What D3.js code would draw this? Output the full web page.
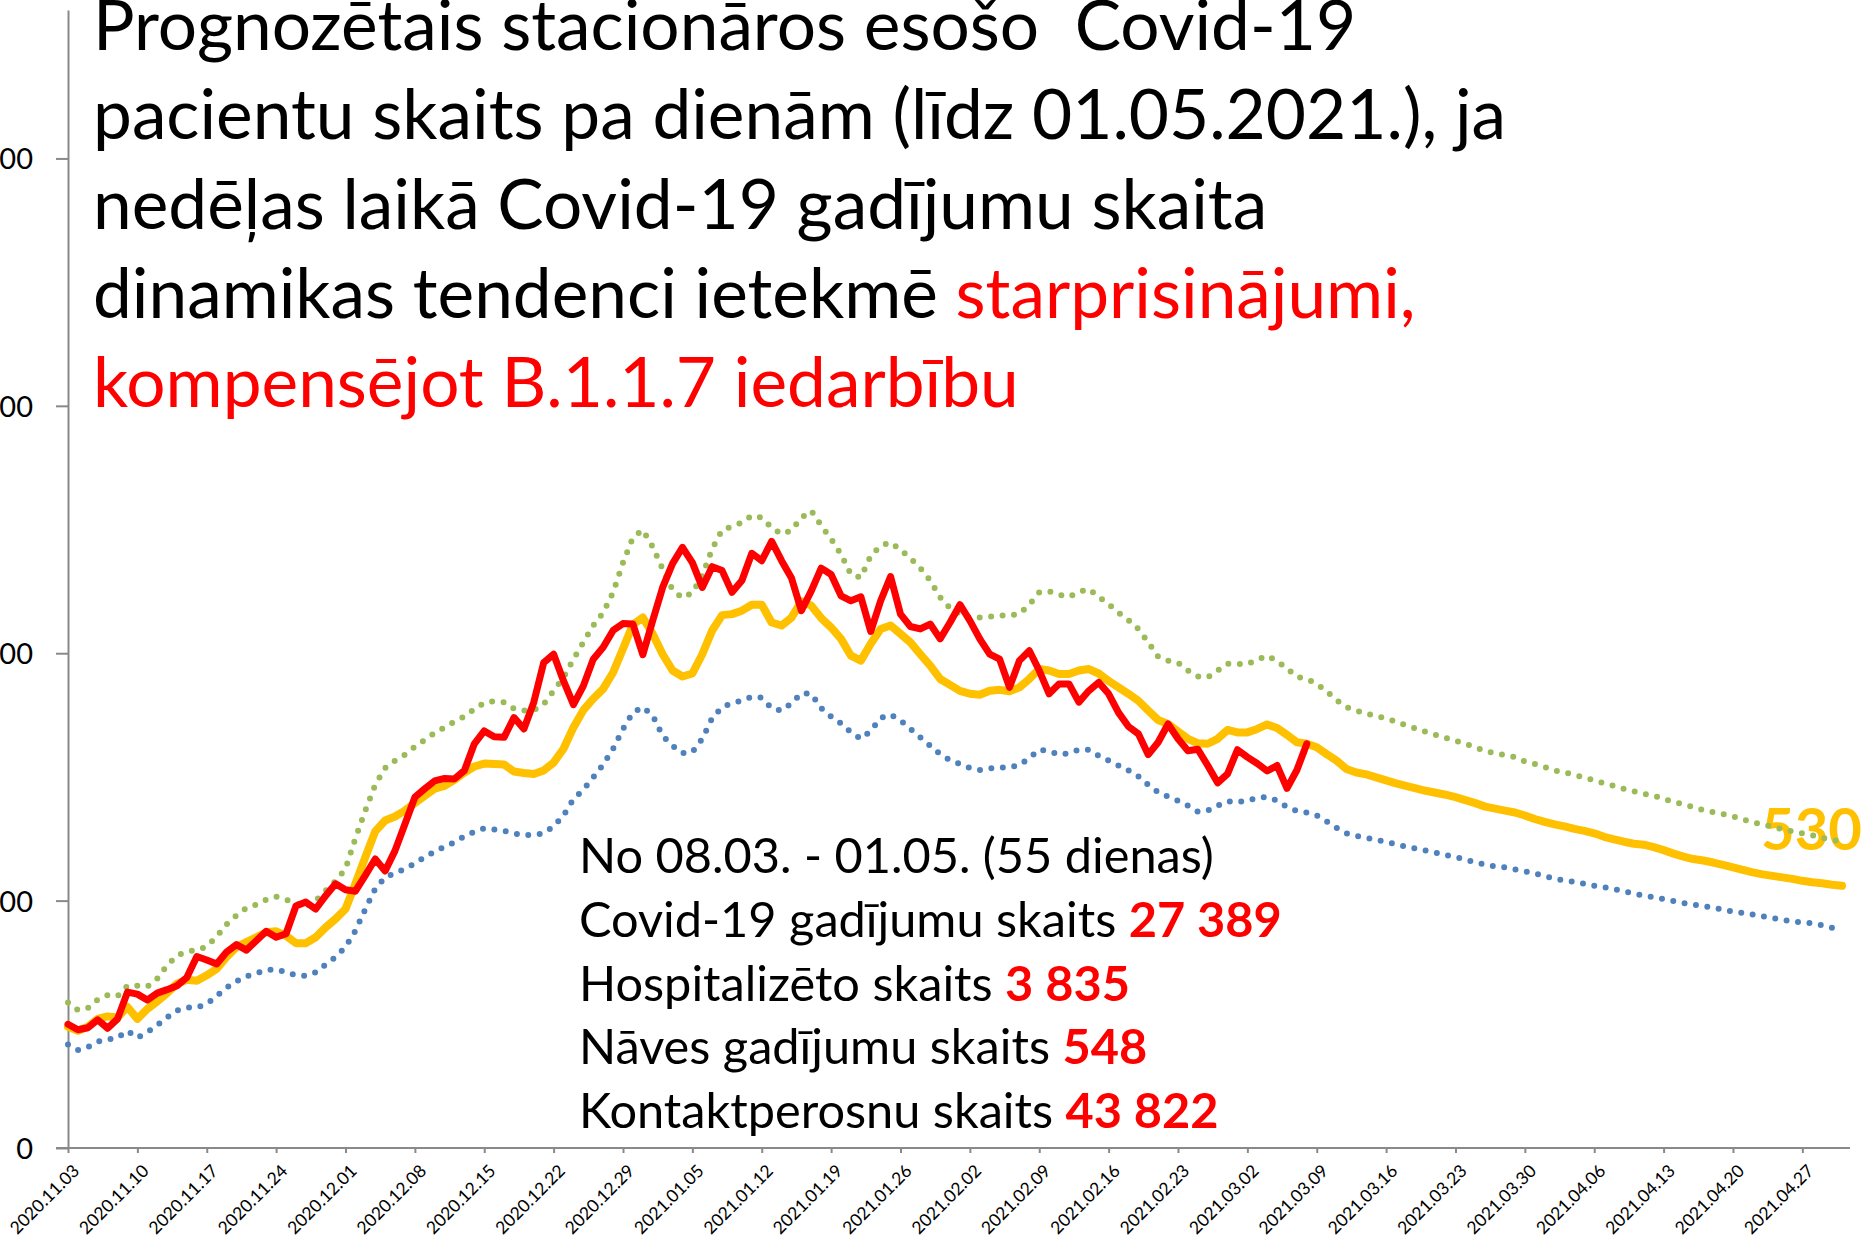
<!DOCTYPE html>
<html><head><meta charset="utf-8">
<script src="https://cdn.jsdelivr.net/npm/d3@7"></script>
<style>html,body{margin:0;padding:0;background:#fff;} svg{display:block;font-family:Lato,'Open Sans',sans-serif;}</style>
</head><body>
<svg id="chart" width="1864" height="1239"></svg>
<script>
// ---- data ----
const startDate = new Date(2020, 10, 3);
const endDate = new Date(2021, 4, 1);
const categories = d3.timeDay.range(startDate, d3.timeDay.offset(endDate, 1)).map(d3.timeFormat("%Y.%m.%d"));

const tickLabels = ["2020.11.03","2020.11.10","2020.11.17","2020.11.24","2020.12.01","2020.12.08","2020.12.15","2020.12.22","2020.12.29","2021.01.05","2021.01.12","2021.01.19","2021.01.26","2021.02.02","2021.02.09","2021.02.16","2021.02.23","2021.03.02","2021.03.09","2021.03.16","2021.03.23","2021.03.30","2021.04.06","2021.04.13","2021.04.20","2021.04.27"];
const yTicks = [0, 500, 1000, 1500, 2000];

// actual hospitalised patients (red)
const actual = [250,239,243,259,242,261,315,311,299,313,320,328,345,387,380,372,396,411,400,419,438,426,433,489,497,483,510,534,522,519,551,584,560,601,655,709,726,742,747,746,763,817,843,831,830,870,847,901,981,998,944,896,934,988,1012,1046,1060,1059,997,1066,1133,1181,1214,1183,1133,1175,1167,1123,1147,1202,1187,1226,1187,1152,1086,1126,1172,1159,1116,1106,1114,1044,1106,1155,1079,1054,1049,1059,1029,1062,1098,1066,1029,998,988,931,985,1005,965,918,938,938,901,924,941,918,880,852,837,795,820,857,827,803,806,773,738,756,805,790,777,762,773,727,764,817];

// model / forecast (yellow)
const model = [245,237,245,261,266,264,285,261,281,296,313,332,340,338,349,362,386,406,416,426,436,438,429,414,414,426,446,463,483,534,588,640,662,670,682,697,712,726,732,744,759,771,777,776,775,761,758,756,763,779,807,850,885,908,928,961,1009,1058,1072,1039,998,965,953,959,998,1046,1077,1079,1086,1098,1098,1062,1056,1072,1105,1096,1071,1052,1029,995,985,1019,1049,1056,1039,1022,998,975,948,936,924,918,916,924,926,923,931,948,968,965,958,958,965,968,959,944,931,918,904,884,865,857,842,827,818,817,827,845,840,840,847,856,849,835,820,817,810,796,783,766,759,755,749,743,737,732,727,722,718,714,709,703,697,690,686,682,678,672,665,659,654,650,645,641,636,629,624,619,615,613,608,602,595,589,584,581,577,572,567,562,557,553,550,547,544,540,537,535,532,530];

// upper bound (green dotted)
const upper = [294,279,283,300,309,307,328,328,326,342,369,389,397,400,407,427,452,470,485,492,502,508,502,495,487,500,520,540,564,626,682,734,768,783,795,811,825,839,850,862,872,887,900,903,901,888,884,885,897,924,951,988,1022,1056,1082,1123,1183,1234,1249,1215,1170,1128,1112,1122,1157,1211,1249,1256,1264,1278,1274,1254,1241,1248,1274,1288,1258,1231,1200,1159,1153,1197,1217,1224,1209,1192,1172,1147,1113,1091,1079,1072,1072,1074,1076,1076,1080,1098,1123,1125,1118,1114,1124,1130,1114,1099,1082,1067,1049,1022,993,985,981,965,953,951,965,979,978,978,987,995,984,969,952,948,938,923,905,891,884,878,873,868,862,854,848,841,835,829,823,817,810,802,798,794,790,781,776,770,763,759,754,749,743,737,732,726,721,716,712,705,700,694,689,683,679,675,670,664,658,654,649,644,640,636,632,627,623,619];

// lower bound (blue dotted)
const lower = [209,198,204,215,219,223,237,223,234,248,264,278,284,284,291,307,324,337,347,353,360,361,355,349,348,355,371,386,406,439,483,524,547,556,564,575,588,599,609,618,630,639,646,644,641,636,632,633,636,650,672,705,724,749,775,807,847,880,891,874,833,813,798,800,827,869,891,899,904,912,910,889,884,899,919,918,889,872,858,840,827,843,869,876,864,847,830,813,796,784,776,768,764,767,769,769,774,788,805,802,795,798,805,805,793,783,773,763,751,734,719,710,702,692,680,682,692,701,699,702,708,709,702,689,681,678,672,660,647,636,631,627,623,618,614,609,605,601,597,592,588,583,577,573,569,567,563,559,555,550,544,541,538,534,530,527,523,519,514,510,507,503,499,495,492,489,486,482,478,475,472,468,465,461,458,456,454,450,445,441];

const endLabel = "530";

const titleLines = [
  [{t:"Prognozētais stacionāros esošo  Covid-19", c:"#000000"}],
  [{t:"pacientu skaits pa dienām (līdz 01.05.2021.), ja", c:"#000000"}],
  [{t:"nedēļas laikā Covid-19 gadījumu skaita", c:"#000000"}],
  [{t:"dinamikas tendenci ietekmē ", c:"#000000"}, {t:"starprisinājumi,", c:"#FF0000"}],
  [{t:"kompensējot B.1.1.7 iedarbību", c:"#FF0000"}]
];
const noteLines = [
  [{t:"No 08.03. - 01.05. (55 dienas)", b:false}],
  [{t:"Covid-19 gadījumu skaits ", b:false}, {t:"27 389", b:true}],
  [{t:"Hospitalizēto skaits ", b:false}, {t:"3 835", b:true}],
  [{t:"Nāves gadījumu skaits ", b:false}, {t:"548", b:true}],
  [{t:"Kontaktperosnu skaits ", b:false}, {t:"43 822", b:true}]
];

// ---- layout ----
const svg = d3.select("#chart");
const x = d3.scalePoint().domain(categories).range([68, 1842]);
const y = d3.scaleLinear().domain([0, 2300]).range([1148, 10]);
const axisColor = "#898989";

// y axis
const yAxis = svg.append("g").attr("transform", "translate(68,0)")
  .call(d3.axisLeft(y).tickValues(yTicks).tickSize(12).tickSizeOuter(0).tickPadding(23).tickFormat(d3.format("d")));
yAxis.select(".domain").attr("stroke", axisColor).attr("stroke-width", 2);
yAxis.selectAll(".tick line").attr("stroke", axisColor).attr("stroke-width", 2);
yAxis.selectAll(".tick text").attr("font-family", "Lato").attr("font-size", 29).attr("fill", "#000").attr("dy", "0.36em");

// x axis
const tickCats = categories.filter((d, i) => i % 7 === 0);
const xAxis = svg.append("g").attr("transform", "translate(0,1148)")
  .call(d3.axisBottom(x).tickValues(tickCats).tickSize(5).tickSizeOuter(0).tickFormat((d, i) => tickLabels[i]));
xAxis.select(".domain").remove();
xAxis.append("line").attr("x1", 56).attr("x2", 1850).attr("y1", 0).attr("y2", 0)
  .attr("stroke", axisColor).attr("stroke-width", 2);
xAxis.selectAll(".tick line").attr("stroke", axisColor).attr("stroke-width", 2);
xAxis.selectAll(".tick text")
  .attr("font-family", "Lato").attr("font-size", 17.5).attr("fill", "#000")
  .attr("text-anchor", "end").attr("dy", null).attr("y", 0)
  .attr("transform", "translate(12,24) rotate(-45)");

// end label (drawn below the lines)
const lastCat = categories[categories.length - 1];
svg.append("text").attr("x", x(lastCat) + 20).attr("y", y(model[model.length - 1]) - 36)
  .attr("text-anchor", "end").attr("font-family", "Lato").attr("font-weight", 700)
  .attr("font-size", 58).attr("fill", "#FFC000").text(endLabel);

// lines
const line = d3.line().x((d, i) => x(categories[i])).y(d => y(d));
svg.append("path").datum(upper).attr("d", line).attr("fill", "none")
  .attr("stroke", "#9BBB59").attr("stroke-width", 6).attr("stroke-linecap", "round")
  .attr("stroke-dasharray", "0 11.5");
svg.append("path").datum(lower).attr("d", line).attr("fill", "none")
  .attr("stroke", "#4F81BD").attr("stroke-width", 6).attr("stroke-linecap", "round")
  .attr("stroke-dasharray", "0 11.5");
svg.append("path").datum(model).attr("d", line).attr("fill", "none")
  .attr("stroke", "#FFC000").attr("stroke-width", 8).attr("stroke-linejoin", "round").attr("stroke-linecap", "round");
svg.append("path").datum(actual).attr("d", line).attr("fill", "none")
  .attr("stroke", "#FF0000").attr("stroke-width", 7).attr("stroke-linejoin", "round").attr("stroke-linecap", "round");

// text blocks, sized to the widths in the reference
function textBlock(lines, x0, baselines, targets, colorFn, weightFn) {
  const g = svg.append("g");
  const nodes = lines.map((parts, li) => {
    const t = g.append("text").attr("x", x0).attr("y", baselines[li])
      .attr("xml:space", "preserve").style("white-space", "pre")
      .attr("font-family", "Lato").attr("font-size", 100);
    parts.forEach(p => t.append("tspan").attr("fill", colorFn(p)).attr("font-weight", weightFn(p)).text(p.t));
    return t;
  });
  const k = d3.mean(nodes, (t, i) => targets[i] / t.node().getComputedTextLength());
  nodes.forEach(t => t.attr("font-size", 100 * k));
}
textBlock(titleLines, 93, [50, 139.3, 228.7, 318, 407.3], [1247, 1419, 1167, 1339, 929],
  p => p.c, p => 400);
textBlock(noteLines, 579, [873.3, 937, 1000.7, 1064.4, 1128], [634, 698, 550, 573, 641],
  p => p.b ? "#FF0000" : "#000000", p => p.b ? 700 : 400);
</script>
</body></html>
